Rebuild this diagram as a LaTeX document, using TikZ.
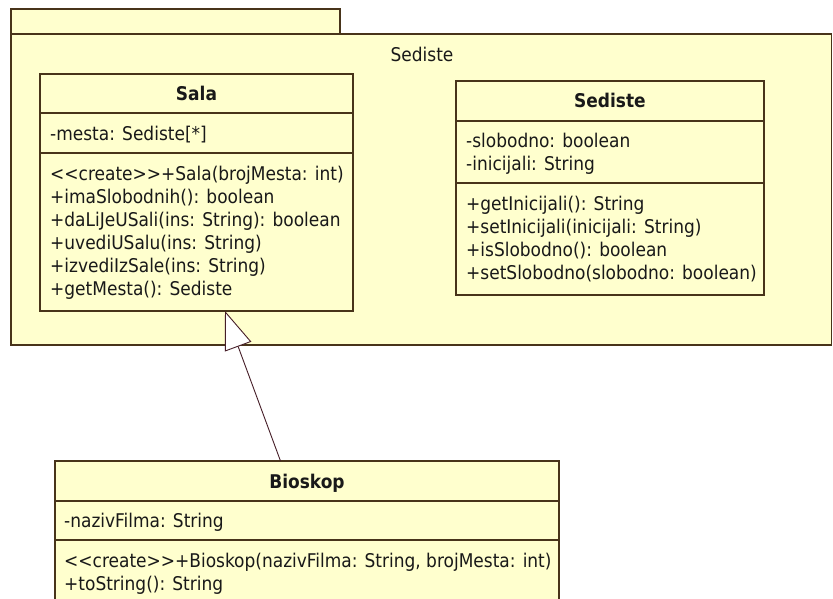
\documentclass[tikz,border=0pt]{standalone}
\usepackage{fontspec}
\setmainfont{DejaVu Sans Condensed}
\usetikzlibrary{arrows.meta}
\definecolor{umlfill}{RGB}{255,255,206}
\definecolor{umlline}{RGB}{72,52,26}
\definecolor{umltext}{RGB}{25,25,25}
\definecolor{linkcol}{RGB}{70,30,40}
\tikzset{
  pkg/.style={draw=umlline, fill=umlfill, line width=1.6pt},
  classbox/.style={draw=umlline, fill=umlfill, line width=1.6pt, rectangle, inner sep=0pt, outer sep=0pt},
  sep/.style={draw=umlline, line width=1.6pt},
  mem/.style={anchor=base west, inner sep=0pt, text=umltext, font=\fontsize{18.9}{22}\selectfont},
  ttl/.style={anchor=base, inner sep=0pt, text=umltext, font=\fontsize{18.9}{22}\selectfont\bfseries},
  ptitle/.style={anchor=base, inner sep=0pt, text=umltext, font=\fontsize{18.9}{22}\selectfont},
  gen/.style={draw=linkcol, line width=0.9pt, -{Triangle[open, length=38pt, width=28pt, fill=white]}}
}
\begin{document}
\begin{tikzpicture}[x=1pt,y=-1pt]
\clip (0,0) rectangle (833,598);
\fill[white] (0,0) rectangle (833,598);
% package
\draw[pkg] (11,9) rectangle (340,34);
\draw[pkg] (11,34) rectangle (831.5,345);
\node[ptitle] (pkgname) at (422,61.5) {Sediste};
% Sala
\node[classbox, minimum width=313pt, minimum height=237pt] (sala) at (196.5,192.5) {};
\draw[sep] (sala.west |- 0,113) -- (sala.east |- 0,113);
\draw[sep] (sala.west |- 0,153) -- (sala.east |- 0,153);
\node[ttl] (salaT) at (196.5,100) {Sala};
\node[mem] (salaA1) at (50,140) {-mesta: Sediste[*]};
\node[mem] (salaM1) at (50,180) {<{}<create>{}>+Sala(brojMesta: int)};
\node[mem] (salaM2) at (50,203) {+imaSlobodnih(): boolean};
\node[mem] (salaM3) at (50,226) {+daLiJeUSali(ins: String): boolean};
\node[mem] (salaM4) at (50,249) {+uvediUSalu(ins: String)};
\node[mem] (salaM5) at (50,272) {+izvediIzSale(ins: String)};
\node[mem] (salaM6) at (50,295) {+getMesta(): Sediste};
% Sediste
\node[classbox, minimum width=308pt, minimum height=214pt] (sed) at (610,188) {};
\draw[sep] (sed.west |- 0,121) -- (sed.east |- 0,121);
\draw[sep] (sed.west |- 0,183) -- (sed.east |- 0,183);
\node[ttl] (sedT) at (610,107) {Sediste};
\node[mem] (sedA1) at (466,147) {-slobodno: boolean};
\node[mem] (sedA2) at (466,170) {-inicijali: String};
\node[mem] (sedM1) at (466,210) {+getInicijali(): String};
\node[mem] (sedM2) at (466,233) {+setInicijali(inicijali: String)};
\node[mem] (sedM3) at (466,256) {+isSlobodno(): boolean};
\node[mem] (sedM4) at (466,279) {+setSlobodno(slobodno: boolean)};
% Bioskop
\node[classbox, minimum width=504pt, minimum height=170pt] (bio) at (307,546) {};
\draw[sep] (bio.west |- 0,501) -- (bio.east |- 0,501);
\draw[sep] (bio.west |- 0,540) -- (bio.east |- 0,540);
\node[ttl] (bioT) at (307,488) {Bioskop};
\node[mem] (bioA1) at (64,527) {-nazivFilma: String};
\node[mem] (bioM1) at (64,567) {<{}<create>{}>+Bioskop(nazivFilma: String, brojMesta: int)};
\node[mem] (bioM2) at (64,590) {+toString(): String};
% generalization
\coordinate (bioTop) at (bio.north -| 280.5,0);
\coordinate (salaBot) at (sala.south -| 225,0);
\draw[gen] (bioTop) -- (salaBot);
\end{tikzpicture}
\end{document}
